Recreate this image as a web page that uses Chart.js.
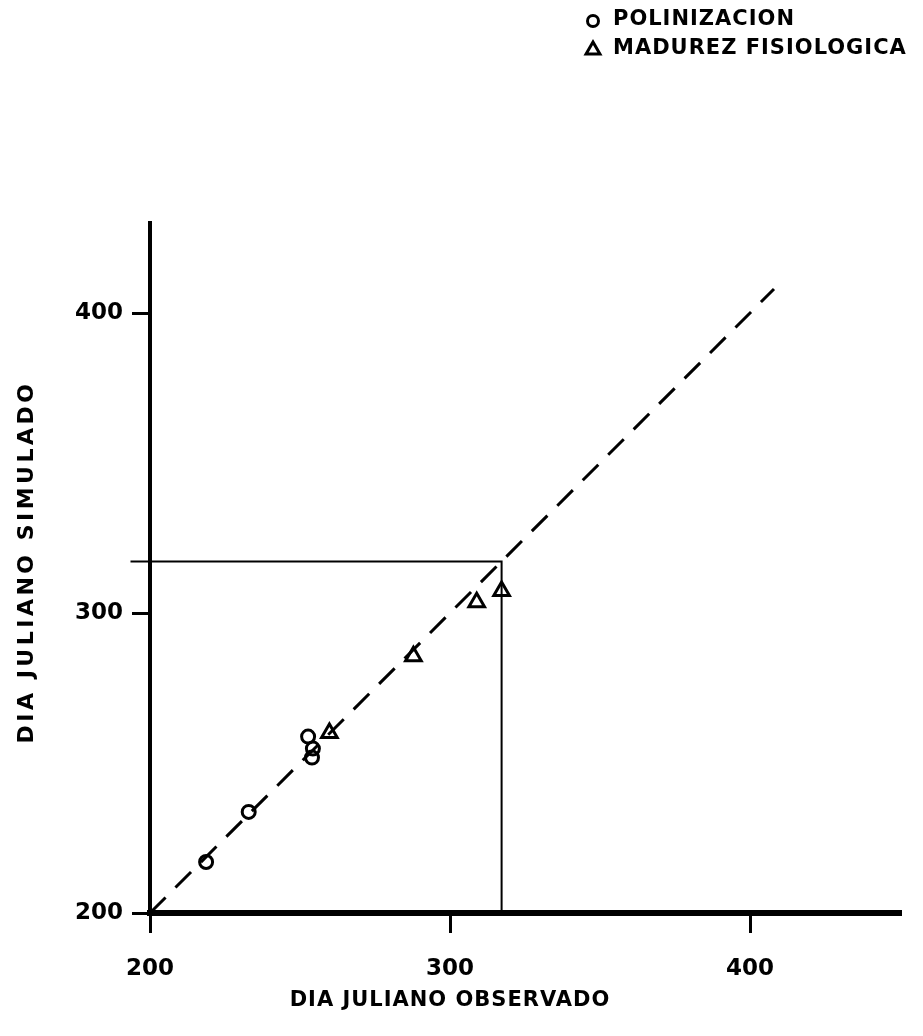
<!DOCTYPE html>
<html>
<head>
<meta charset="utf-8">
<script src="https://cdn.jsdelivr.net/npm/chart.js@4.4.1/dist/chart.umd.min.js"></script>
<style>
  html, body { margin: 0; padding: 0; background: #fff; }
  #wrap { width: 923px; height: 1036px; position: relative; }
</style>
</head>
<body>
<div id="wrap"><canvas id="fenologia"></canvas></div>
<script>
// Dia juliano observado vs simulado
const xTicks = [200, 300, 400];
const yTicks = [200, 300, 400];

const polinizacionObs = [218.7, 232.9, 252.7, 254.3, 254.0];
const polinizacionSim = [217.0, 233.7, 258.8, 254.8, 251.8];

const madurezObs = [259.8, 287.8, 308.9, 317.2];
const madurezSim = [260.0, 285.6, 303.6, 307.3];

// recta 1:1
const unoAUnoX = [200, 408];
const unoAUnoY = [200, 408];

// lineas de referencia
const refX = [193.5, 317.2, 317.2];
const refY = [317.2, 317.2, 200];

const tituloX = 'DIA JULIANO OBSERVADO';
const tituloY = 'DIA JULIANO SIMULADO';
const leyenda = ['POLINIZACION', 'MADUREZ FISIOLOGICA'];

function pares(xs, ys) {
  return xs.map((x, i) => ({ x: x, y: ys[i] }));
}

Chart.defaults.font.family = '"DejaVu Sans", sans-serif';
Chart.defaults.font.weight = 'bold';
Chart.defaults.color = '#000';

// titulos de ejes y leyenda con espaciado entre letras
const rotulos = {
  id: 'rotulos',
  afterDraw(chart) {
    const ctx = chart.ctx;
    ctx.save();
    ctx.fillStyle = '#000';
    ctx.strokeStyle = '#000';
    ctx.textBaseline = 'middle';

    ctx.font = 'bold 21px "DejaVu Sans"';
    ctx.letterSpacing = '1px';
    ctx.textAlign = 'center';
    ctx.fillText(tituloX, chart.scales.x.getPixelForValue(300), 1001);

    ctx.save();
    ctx.translate(27, 562);
    ctx.rotate(-Math.PI / 2);
    ctx.font = 'bold 22px "DejaVu Sans"';
    ctx.letterSpacing = '3.5px';
    ctx.fillText(tituloY, 0, 0);
    ctx.restore();

    ctx.font = 'bold 21px "DejaVu Sans"';
    ctx.letterSpacing = '1px';
    ctx.textAlign = 'left';
    const filas = [20, 49];
    const marcas = [
      { pointStyle: 'circle', radius: 5.5, rotation: 0, borderWidth: 3 },
      { pointStyle: 'triangle', radius: 8, rotation: 0, borderWidth: 3 }
    ];
    leyenda.forEach((txt, i) => {
      ctx.lineWidth = 3;
      ctx.fillStyle = '#fff';
      Chart.helpers.drawPoint(ctx, marcas[i], 593, filas[i] + 1);
      ctx.fillStyle = '#000';
      ctx.fillText(txt, 613, filas[i]);
    });
    ctx.restore();
  }
};

new Chart(document.getElementById('fenologia'), {
  type: 'scatter',
  data: {
    datasets: [
      {
        label: 'referencia',
        data: pares(refX, refY),
        showLine: true,
        borderColor: '#000',
        borderWidth: 2,
        pointRadius: 0,
        clip: false
      },
      {
        label: '1:1',
        data: pares(unoAUnoX, unoAUnoY),
        showLine: true,
        borderColor: '#000',
        borderWidth: 3,
        borderDash: [22, 14],
        pointRadius: 0,
        clip: false
      },
      {
        label: leyenda[0],
        data: pares(polinizacionObs, polinizacionSim),
        pointStyle: 'circle',
        pointRadius: 6.5,
        pointBorderWidth: 3,
        pointBorderColor: '#000',
        pointBackgroundColor: 'rgba(0,0,0,0)',
        clip: false
      },
      {
        label: leyenda[1],
        data: pares(madurezObs, madurezSim),
        pointStyle: 'triangle',
        pointRadius: 9,
        pointBorderWidth: 3,
        pointBorderColor: '#000',
        pointBackgroundColor: 'rgba(0,0,0,0)',
        clip: false
      }
    ]
  },
  options: {
    responsive: true,
    maintainAspectRatio: false,
    animation: false,
    layout: { padding: { top: 223, right: 23, left: 0, bottom: 0 } },
    plugins: {
      legend: { display: false },
      tooltip: { enabled: false }
    },
    scales: {
      x: {
        type: 'linear',
        min: 200,
        max: 450,
        afterBuildTicks: s => { s.ticks = xTicks.map(v => ({ value: v })); },
        afterFit: s => { s.height = 123; },
        grid: { drawOnChartArea: false, color: '#000', lineWidth: 3, tickLength: 20 },
        border: { color: '#000', width: 6 },
        ticks: { padding: 22, font: { size: 23, weight: 'bold' }, maxRotation: 0 }
      },
      y: {
        type: 'linear',
        min: 200,
        max: 430,
        afterBuildTicks: s => { s.ticks = yTicks.map(v => ({ value: v })); },
        afterFit: s => { s.width = 150; },
        grid: { drawOnChartArea: false, color: '#000', lineWidth: 3, tickLength: 18 },
        border: { color: '#000', width: 4 },
        ticks: { padding: 9, font: { size: 23, weight: 'bold' } }
      }
    }
  },
  plugins: [rotulos]
});
</script>
</body>
</html>
